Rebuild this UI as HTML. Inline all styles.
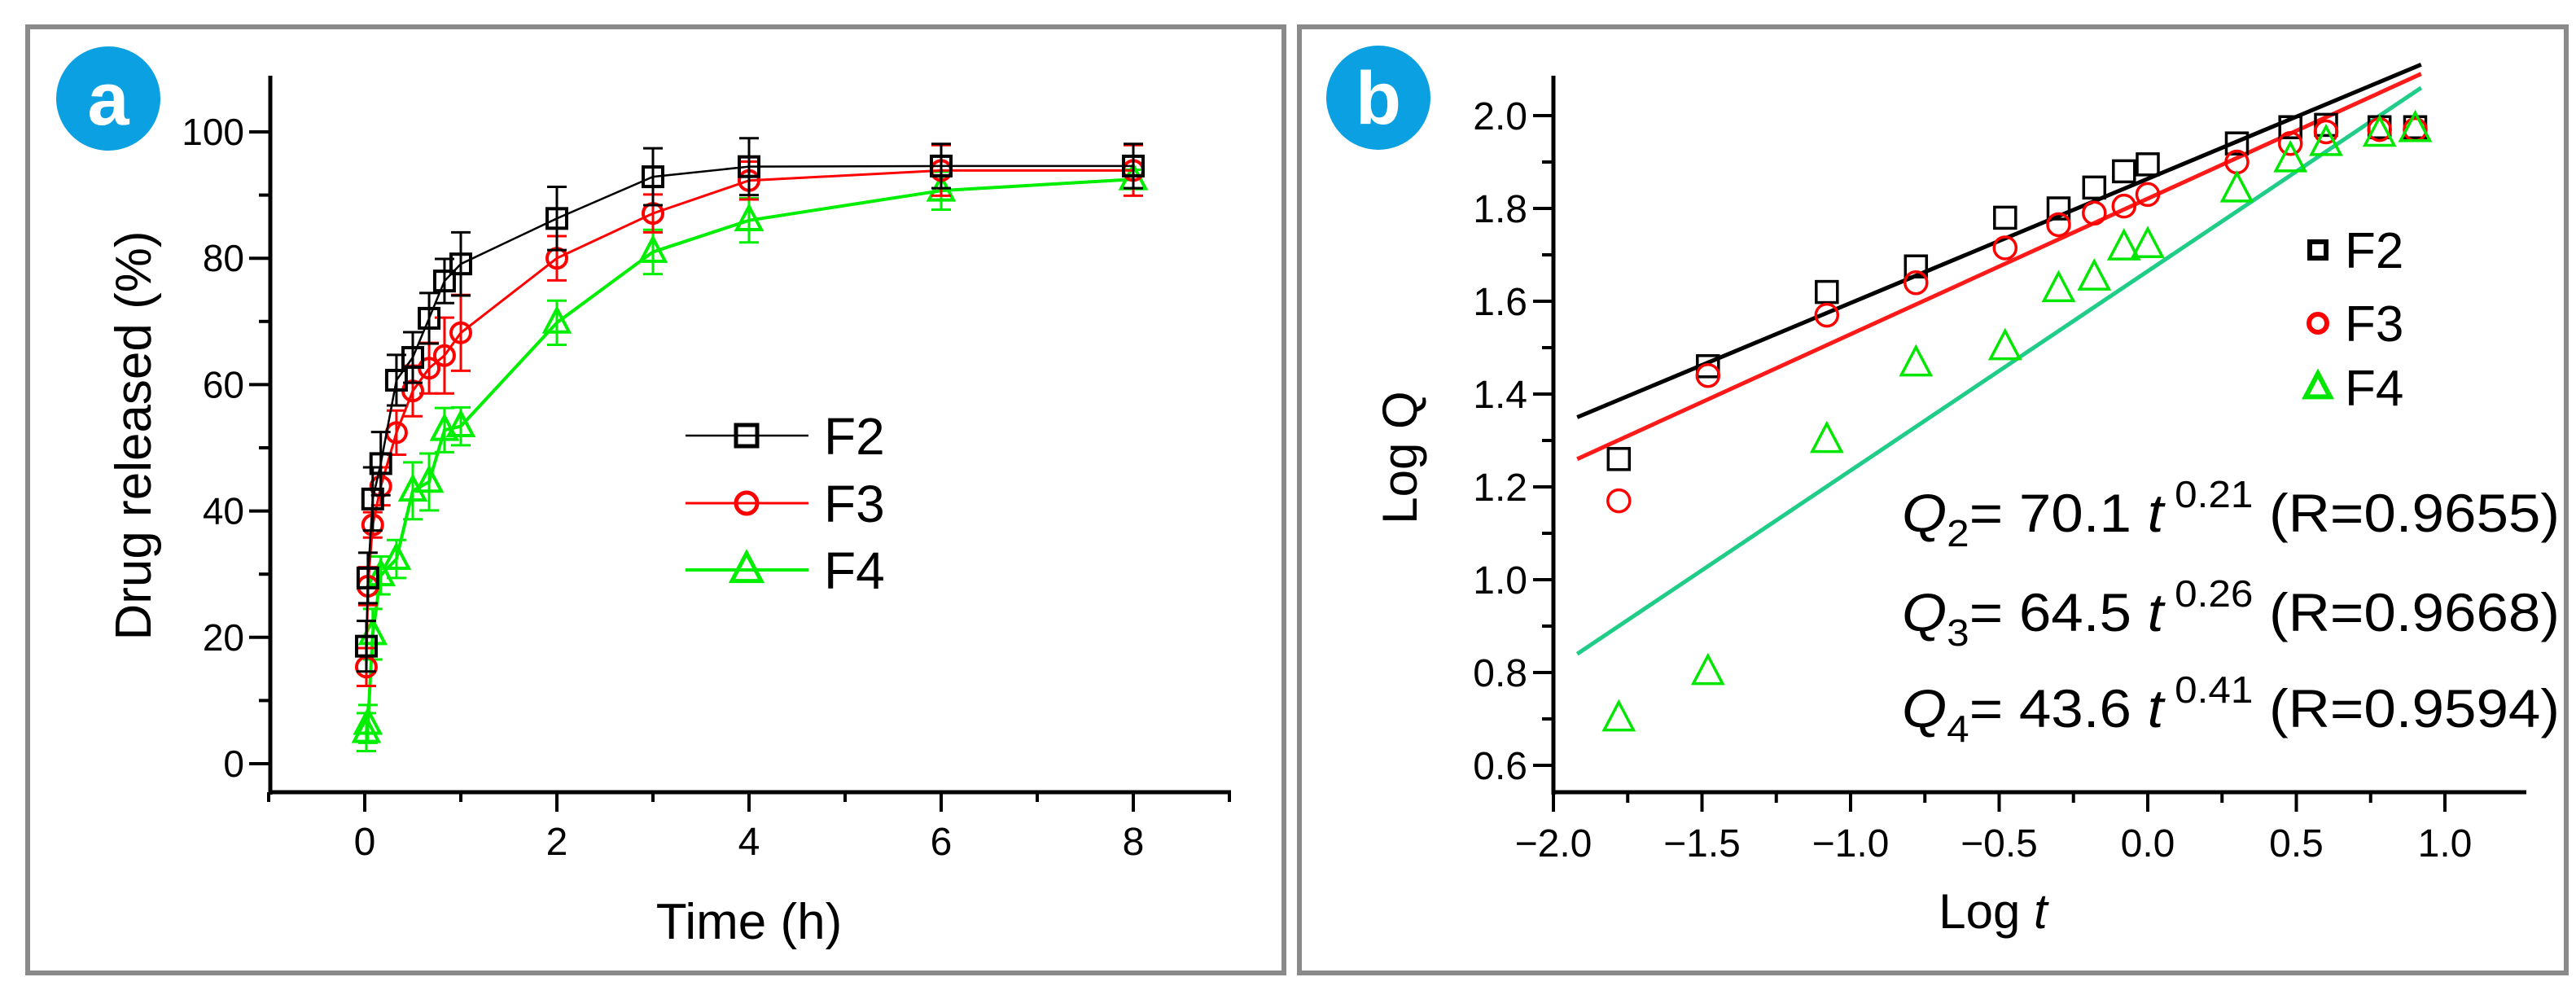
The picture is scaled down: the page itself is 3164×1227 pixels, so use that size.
<!DOCTYPE html>
<html><head><meta charset="utf-8"><style>
html,body{margin:0;padding:0;background:#fff;}
svg{display:block;font-family:"Liberation Sans",Arial,sans-serif;}
</style></head><body>
<svg id="fig" width="3164" height="1227" viewBox="0 0 3164 1227">
<rect x="0" y="0" width="3164" height="1227" fill="#fff"/>
<rect x="34" y="33" width="1543" height="1162" fill="none" stroke="#8a8a8a" stroke-width="6"/>
<rect x="1596" y="33" width="1556" height="1162" fill="none" stroke="#8a8a8a" stroke-width="6"/>
<g>
<circle cx="133" cy="121" r="64" fill="#0aa0e2"/>
<text x="133" y="153" text-anchor="middle" font-size="92" font-weight="bold" fill="#fff">a</text>
</g>
<g>
<circle cx="1693" cy="120" r="64" fill="#0aa0e2"/>
<text x="1693" y="152" text-anchor="middle" font-size="92" font-weight="bold" fill="#fff">b</text>
</g>
<g id="pa"></g>
<g id="pb"></g>
</svg>
<script>
// ---------- Panel A data ----------
const timesA = [0.0167,0.033,0.083,0.167,0.33,0.5,0.67,0.83,1,2,3,4,6,8];
const f2Release = [18.6,29.4,41.9,47.5,60.7,64.3,70.5,76.4,79.1,86.3,92.9,94.5,94.6,94.6];
const f3Release = [15.3,28.1,37.8,43.9,52.4,59.0,62.6,64.6,68.2,80.0,87.1,92.3,93.9,93.9];
const f4Release = [5.0,6.3,20.5,29.8,32.4,43.2,44.6,52.8,53.4,69.8,81.0,86.0,90.7,92.5];
const f2Err = [4,4,5,5,4,4,4,3.5,5,5,4.5,4.5,3.5,3.5];
const f3Err = [3,3,2,3,3.5,4,4,6,6,3.5,3,3,4,4];
const f4Err = [3,3,4,3,3,4.5,4.5,3.5,3,3.5,3.5,3.5,3,1.5];
const yTicksA = [0,20,40,60,80,100];
const xTicksA = [0,2,4,6,8];
// ---------- Panel B data ----------
const logT = [-1.78,-1.48,-1.08,-0.78,-0.48,-0.3,-0.18,-0.08,0,0.3,0.48,0.6,0.78,0.9];
const f2LogQ = [1.26,1.46,1.62,1.675,1.78,1.80,1.845,1.88,1.895,1.94,1.975,1.98,1.975,1.975];
const f3LogQ = [1.17,1.44,1.57,1.64,1.715,1.765,1.79,1.805,1.83,1.90,1.94,1.965,1.97,1.97];
const f4LogQ = [0.70,0.80,1.30,1.465,1.50,1.625,1.65,1.715,1.72,1.84,1.905,1.94,1.96,1.97];
const fitStartX = [-1.92,-1.92,-1.92];
const fitEndX = [0.92,0.92,0.92];
const fitStartY = [1.35,1.26,0.84];
const fitEndY = [2.11,2.09,2.06];
const yTicksB = ["0.6","0.8","1.0","1.2","1.4","1.6","1.8","2.0"];
const xTicksB = ["-2.0","-1.5","-1.0","-0.5","0.0","0.5","1.0"];

const NS="http://www.w3.org/2000/svg";
function mk(parent,tag,attrs){const e=document.createElementNS(NS,tag);for(const k in attrs)e.setAttribute(k,attrs[k]);parent.appendChild(e);return e;}

// ===== Panel A =====
const pa=document.getElementById('pa');
const ax=t=>448+118*t;
const ay=v=>938-7.76*v;
let e=mk(pa,'line',{x1:332,y1:93,x2:332,y2:976,stroke:'#000','stroke-width':5});


e=mk(pa,'line',{x1:330,y1:973,x2:1512,y2:973,stroke:'#000','stroke-width':5});


for(let v=0;v<=100;v+=10){const maj=v%20===0;mk(pa,'line',{x1:332-(maj?26:14),y1:ay(v),x2:332,y2:ay(v),stroke:'#000','stroke-width':4});}
yTicksA.forEach(v=>{const t=mk(pa,'text',{x:300,y:ay(v)+16,'text-anchor':'end','font-size':46});t.textContent=v;

});
for(let v=-1;v<=9;v++){const maj=v%2===0;mk(pa,'line',{x1:ax(v),y1:973,x2:ax(v),y2:973+(maj?24:12),stroke:'#000','stroke-width':4});}
xTicksA.forEach(v=>{const t=mk(pa,'text',{x:ax(v),y:1050,'text-anchor':'middle','font-size':48});t.textContent=v;

});
e=mk(pa,'text',{x:920,y:1153,'text-anchor':'middle','font-size':62});e.textContent='Time (h)';


e=mk(pa,'text',{x:0,y:0,'text-anchor':'middle','font-size':62,transform:'translate(185,535) rotate(-90)'});e.textContent='Drug released (%)';



function marker(g,type,x,y,s,color,sw){
  if(type==='sq') return mk(g,'rect',{x:x-s/2,y:y-s/2,width:s,height:s,fill:'none',stroke:color,'stroke-width':sw});
  if(type==='ci') return mk(g,'circle',{cx:x,cy:y,r:s/2,fill:'none',stroke:color,'stroke-width':sw});
  const h=s*0.95;return mk(g,'polygon',{points:`${x},${y-h*0.6} ${x-s/2},${y+h*0.4} ${x+s/2},${y+h*0.4}`,fill:'none',stroke:color,'stroke-width':sw});
}
const seriesA=[
 {name:'f2',vals:f2Release,err:f2Err,color:'#000',type:'sq',lw:2.5},
 {name:'f3',vals:f3Release,err:f3Err,color:'#ff0000',type:'ci',lw:3},
 {name:'f4',vals:f4Release,err:f4Err,color:'#00ee00',type:'tr',lw:4}];
seriesA.slice().reverse().forEach(s=>{
  const g=mk(pa,'g',{});
  
  
  const pts=timesA.map((t,i)=>ax(t)+','+ay(s.vals[i])).join(' ');
  mk(g,'polyline',{points:pts,fill:'none',stroke:s.color,'stroke-width':s.lw});
  timesA.forEach((t,i)=>{
    const x=ax(t),y1=ay(s.vals[i]+s.err[i]),y2=ay(s.vals[i]-s.err[i]);
    const eb=mk(g,'path',{d:`M${x},${y1}V${y2}M${x-12},${y1}H${x+12}M${x-12},${y2}H${x+12}`,stroke:s.color,'stroke-width':3,fill:'none'});
    
    
    const m=marker(g,s.type,x,ay(s.vals[i]),s.type==='tr'?30:24,s.color,4);
    
    
  });
});
const legA=[{l:'F2',c:'#000',t:'sq',y:535,w:2.5},{l:'F3',c:'#ff0000',t:'ci',y:618,w:3},{l:'F4',c:'#00ee00',t:'tr',y:700,w:4}];
legA.forEach(d=>{const g=mk(pa,'g',{});
 
 
 mk(g,'line',{x1:842,y1:d.y,x2:993,y2:d.y,stroke:d.c,'stroke-width':d.w});
 marker(g,d.t,917,d.y,d.t==='tr'?36:26,d.c,5);
 const t=mk(g,'text',{x:1012,y:d.y+23,'font-size':64});t.textContent=d.l;});

// ===== Panel B =====
const pb=document.getElementById('pb');
const bx=v=>1908+365*(v+2);
const by=v=>142-570*(v-2.0);
e=mk(pb,'line',{x1:1908,y1:93,x2:1908,y2:976,stroke:'#000','stroke-width':5});


e=mk(pb,'line',{x1:1906,y1:973,x2:3103,y2:973,stroke:'#000','stroke-width':5});


for(let k=6;k<=20;k++){const v=k/10;const maj=k%2===0;mk(pb,'line',{x1:1908-(maj?25:14),y1:by(v),x2:1908,y2:by(v),stroke:'#000','stroke-width':4});}
yTicksB.forEach(s=>{const t=mk(pb,'text',{x:1876,y:by(parseFloat(s))+17,'text-anchor':'end','font-size':48});t.textContent=s;

});
for(let k=-8;k<=4;k++){const v=k/4;const maj=k%2===0;mk(pb,'line',{x1:bx(v),y1:973,x2:bx(v),y2:973+(maj?24:13),stroke:'#000','stroke-width':4});}
xTicksB.forEach(s=>{const t=mk(pb,'text',{x:bx(parseFloat(s)),y:1052,'text-anchor':'middle','font-size':48});t.textContent=s.replace('-','\u2212');

});
e=mk(pb,'text',{x:2448,y:1140,'text-anchor':'middle','font-size':60});e.innerHTML='Log <tspan font-style="italic">t</tspan>';


e=mk(pb,'text',{x:0,y:0,'text-anchor':'middle','font-size':60,transform:'translate(1740,562) rotate(-90)'});e.textContent='Log Q';


const fitColors=['#000','#ff1a1a','#1fcc88'];
const fitNames=['fit-line-f2','fit-line-f3','fit-line-f4'];
fitColors.forEach((c,i)=>{const l=mk(pb,'line',{x1:bx(fitStartX[i]),y1:by(fitStartY[i]),x2:bx(fitEndX[i]),y2:by(fitEndY[i]),stroke:c,'stroke-width':5});
 
 });
const seriesB=[{n:'f2',v:f2LogQ,c:'#000',t:'sq',s:26},{n:'f3',v:f3LogQ,c:'#ff0000',t:'ci',s:27},{n:'f4',v:f4LogQ,c:'#00e600',t:'tr',s:36}];
seriesB.forEach(s=>{const g=mk(pb,'g',{});
 
 
 logT.forEach((x,i)=>{const m=marker(g,s.t,bx(x),by(s.v[i]),s.s,s.c,3.5);
  
  });});
const legB=[{l:'F2',c:'#000',t:'sq',y:307,s:20},{l:'F3',c:'#ff0000',t:'ci',y:397,s:22},{l:'F4',c:'#00e600',t:'tr',y:476,s:30}];
legB.forEach(d=>{const g=mk(pb,'g',{});
 
 
 marker(g,d.t,2847,d.y,d.s,d.c,6);
 const t=mk(g,'text',{x:2880,y:d.y+22,'font-size':62});t.textContent=d.l;});
const eqs=[['2','70.1','0.21','0.9655',653],['3','64.5','0.26','0.9668',775],['4','43.6','0.41','0.9594',893]];
eqs.forEach(q=>{const t=mk(pb,'text',{x:2336,y:q[4],'font-size':66,textLength:808,lengthAdjust:'spacingAndGlyphs'});
 
 
 t.innerHTML=`<tspan font-style="italic">Q</tspan><tspan font-size="46" dy="18">${q[0]}</tspan><tspan dy="-18">= ${q[1]} </tspan><tspan font-style="italic">t</tspan><tspan font-size="46" dy="-30"> ${q[2]}</tspan><tspan dy="30"> (R=${q[3]})</tspan>`;});
</script>
</body></html>
